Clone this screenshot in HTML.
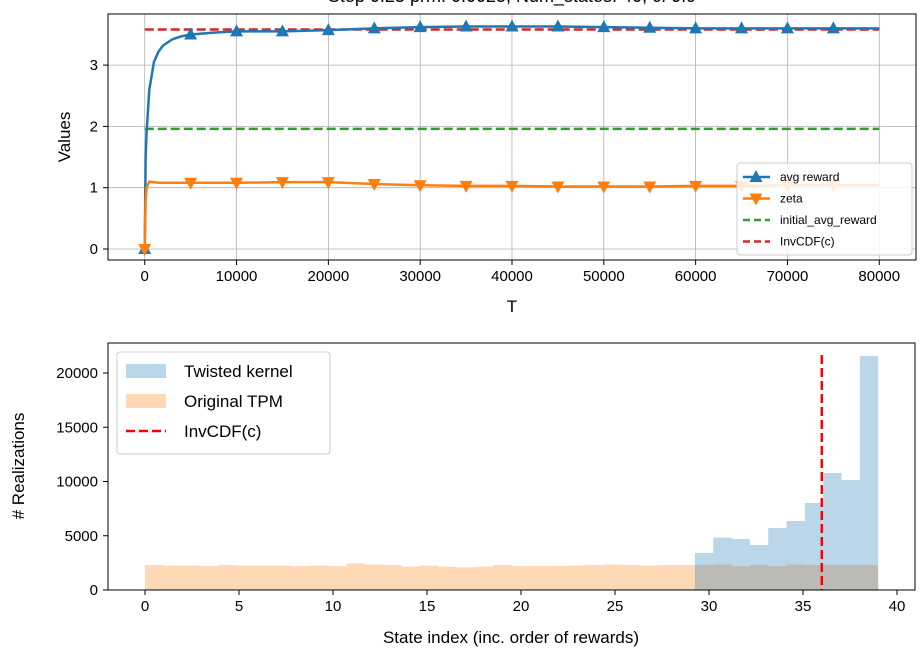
<!DOCTYPE html>
<html><head><meta charset="utf-8"><style>
body{margin:0;background:#fff;}
svg text{font-family:"Liberation Sans",Arial,sans-serif;fill:#000;}
</style></head><body>
<svg id="c" width="921" height="657" xmlns="http://www.w3.org/2000/svg"></svg>
<script>
const topT=[0,100,200,500,1000,1500,2000,3000,4000,5000,7500,10000,15000,20000,25000,30000,35000,40000,45000,50000,55000,60000,65000,70000,75000,80000];
const avgReward=[0,1.5,1.9,2.6,3.05,3.22,3.32,3.42,3.47,3.5,3.53,3.55,3.55,3.57,3.6,3.62,3.63,3.63,3.63,3.62,3.61,3.6,3.6,3.6,3.6,3.6];
const zeta=[0,0.8,1.0,1.1,1.09,1.08,1.08,1.08,1.08,1.08,1.08,1.08,1.09,1.09,1.06,1.04,1.03,1.03,1.02,1.02,1.02,1.03,1.03,1.04,1.04,1.04];
const markerT=[0,5000,10000,15000,20000,25000,30000,35000,40000,45000,50000,55000,60000,65000,70000,75000];
const initialAvgReward=1.96, invCdfTop=3.58;
const topXTicks=[0,10000,20000,30000,40000,50000,60000,70000,80000];
const topYTicks=[0,1,2,3];
const origCounts=[2300,2250,2250,2200,2300,2250,2250,2250,2200,2250,2200,2450,2350,2300,2150,2250,2150,2100,2150,2300,2200,2200,2200,2250,2300,2350,2300,2250,2300,2300,2300,2350,2200,2300,2200,2350,2300,2300,2300,2300];
const twistCounts=[0,0,0,0,0,0,0,0,0,0,0,0,0,0,0,0,0,0,0,0,0,0,0,0,0,0,0,0,0,0,3410,4820,4700,4150,5710,6360,8020,10780,10140,21570];
const invCdfState=36;
const botXTicks=[0,5,10,15,20,25,30,35,40];
const botYTicks=[0,5000,10000,15000,20000];

const svg=document.getElementById('c');const NS='http://www.w3.org/2000/svg';
function el(t,a,p){const e=document.createElementNS(NS,t);for(const k in a)e.setAttribute(k,a[k]);(p||svg).appendChild(e);return e;}
function txt(s,a,p){const e=el('text',a,p);e.textContent=s;return e;}

const tx=v=>108+(v+4000)/88000*808, ty=v=>249-v*61.3;
const L1=108,R1=916,T1=14,B1=260;
const title=txt('Step 0.25 prm: 0.0025, Num_states: 40, c: 0.9',{x:512,y:2,'text-anchor':'middle','font-size':18});

const g1=el('g',{});
topXTicks.forEach(v=>{el('line',{x1:tx(v),x2:tx(v),y1:T1,y2:B1,stroke:'#b0b0b0','stroke-width':0.8},g1);el('line',{x1:tx(v),x2:tx(v),y1:B1,y2:B1+5,stroke:'#000'},g1);const t=txt(v,{x:tx(v),y:B1+21,'text-anchor':'middle','font-size':15},g1);});
topYTicks.forEach(v=>{el('line',{x1:L1,x2:R1,y1:ty(v),y2:ty(v),stroke:'#b0b0b0','stroke-width':0.8},g1);el('line',{x1:L1-5,x2:L1,y1:ty(v),y2:ty(v),stroke:'#000'},g1);const t=txt(v,{x:L1-10,y:ty(v)+5,'text-anchor':'end','font-size':15},g1);});
el('line',{x1:tx(0),x2:tx(80000),y1:ty(initialAvgReward),y2:ty(initialAvgReward),stroke:'#2ca02c','stroke-width':2.5,'stroke-dasharray':'9,4'},g1);
el('line',{x1:tx(0),x2:tx(80000),y1:ty(invCdfTop),y2:ty(invCdfTop),stroke:'#d62728','stroke-width':2.5,'stroke-dasharray':'9,4'},g1);
function interp(arr,t){for(let i=1;i<topT.length;i++){if(t<=topT[i]){const f=(t-topT[i-1])/(topT[i]-topT[i-1]);return arr[i-1]+f*(arr[i]-arr[i-1]);}}return arr[arr.length-1];}
[[avgReward,'#1f77b4','avg-reward-line','up'],[zeta,'#ff7f0e','zeta-line','down']].forEach(([arr,col,name,dir])=>{
 const p=el('polyline',{points:topT.map((t,i)=>tx(t)+','+ty(arr[i])).join(' '),fill:'none',stroke:col,'stroke-width':2.5,'stroke-linejoin':'round'},g1);
 markerT.forEach(t=>{const x=tx(t),y=ty(interp(arr,t));const pts=dir==='up'?`${x},${y-7} ${x-6.5},${y+5} ${x+6.5},${y+5}`:`${x},${y+7} ${x-6.5},${y-5} ${x+6.5},${y-5}`;const m=el('polygon',{points:pts,fill:col},g1);});
});
el('rect',{x:L1,y:T1,width:R1-L1,height:B1-T1,fill:'none',stroke:'#000','stroke-width':1},g1);
txt('T',{x:512,y:312,'text-anchor':'middle','font-size':17},g1);
txt('Values',{x:70,y:137,'text-anchor':'middle','font-size':17,transform:'rotate(-90 70 137)'},g1);
const lg1=el('g',{},g1);
el('rect',{x:737,y:163,width:175,height:92,fill:'#fff','fill-opacity':0.85,stroke:'#ccc',rx:3},lg1);
[['avg reward','#1f77b4','up'],['zeta','#ff7f0e','down'],['initial_avg_reward','#2ca02c','dash'],['InvCDF(c)','#d62728','dash']].forEach(([s,c,k],i)=>{const y=177+i*21.5;
 if(k==='dash')el('line',{x1:743,x2:770,y1:y,y2:y,stroke:c,'stroke-width':2.5,'stroke-dasharray':'7,4'},lg1);
 else{el('line',{x1:743,x2:770,y1:y,y2:y,stroke:c,'stroke-width':2.5},lg1);el('polygon',{points:k==='up'?`756,${y-7} 749.5,${y+5} 762.5,${y+5}`:`756,${y+7} 749.5,${y-5} 762.5,${y-5}`,fill:c},lg1);}
 txt(s,{x:780,y:y+4,'font-size':12},lg1);});

const L2=108,R2=915,T2=343,B2=590;
const bx=v=>145+v*18.8, by=v=>590-v*0.01085;
const g2=el('g',{});
const bw=39/40;
origCounts.forEach((v,i)=>{const r=el('rect',{x:bx(i*bw),y:by(v),width:bx((i+1)*bw)-bx(i*bw),height:B2-by(v),fill:'#ff7f0e','fill-opacity':0.3},g2);});
twistCounts.forEach((v,i)=>{if(!v)return;const r=el('rect',{x:bx(i*bw),y:by(v),width:bx((i+1)*bw)-bx(i*bw),height:B2-by(v),fill:'#1f77b4','fill-opacity':0.3},g2);});
el('line',{x1:bx(invCdfState),x2:bx(invCdfState),y1:355,y2:B2,stroke:'#f00','stroke-width':2.5,'stroke-dasharray':'9,4'},g2);
botXTicks.forEach(v=>{el('line',{x1:bx(v),x2:bx(v),y1:B2,y2:B2+5,stroke:'#000'},g2);txt(v,{x:bx(v),y:B2+21,'text-anchor':'middle','font-size':15},g2);});
botYTicks.forEach(v=>{el('line',{x1:L2-5,x2:L2,y1:by(v),y2:by(v),stroke:'#000'},g2);txt(v,{x:L2-10,y:by(v)+5,'text-anchor':'end','font-size':15},g2);});
el('rect',{x:L2,y:T2,width:R2-L2,height:B2-T2,fill:'none',stroke:'#000','stroke-width':1},g2);
txt('State index (inc. order of rewards)',{x:511,y:643,'text-anchor':'middle','font-size':17},g2);
txt('# Realizations',{x:24,y:466,'text-anchor':'middle','font-size':17,transform:'rotate(-90 24 466)'},g2);
const lg2=el('g',{},g2);
el('rect',{x:117,y:352,width:213,height:102,fill:'#fff','fill-opacity':0.85,stroke:'#ccc',rx:3},lg2);
[['Twisted kernel','#1f77b4','box'],['Original TPM','#ff7f0e','box'],['InvCDF(c)','#f00','dash']].forEach(([s,c,k],i)=>{const y=371+i*30;
 if(k==='box')el('rect',{x:126,y:y-7,width:40,height:14,fill:c,'fill-opacity':0.3},lg2);
 else el('line',{x1:126,x2:166,y1:y,y2:y,stroke:c,'stroke-width':2.5,'stroke-dasharray':'9,4'},lg2);
 txt(s,{x:184,y:y+6,'font-size':17},lg2);});
</script>
</body></html>
